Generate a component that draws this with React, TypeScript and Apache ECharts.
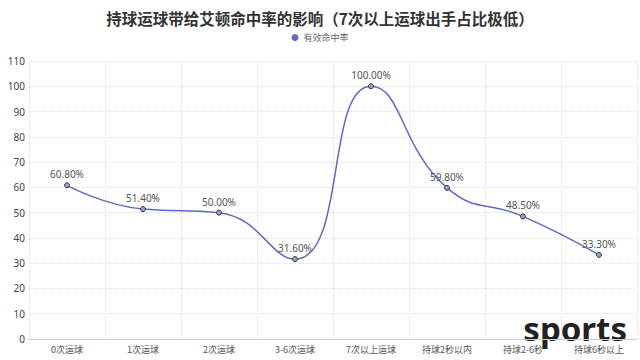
import React, { useEffect, useRef } from "react";
import * as echarts from "echarts";

const categories = ["0次运球", "1次运球", "2次运球", "3-6次运球", "7次以上运球", "持球2秒以内", "持球2-6秒", "持球6秒以上"];
const values = [60.8, 51.4, 50.0, 31.6, 100.0, 59.8, 48.5, 33.3];
const seriesName = "有效命中率";
const titleText = "持球运球带给艾顿命中率的影响（7次以上运球出手占比极低）";

export default function App() {
  const ref = useRef<HTMLDivElement>(null);
  useEffect(() => {
    const chart = echarts.init(ref.current!, null, { renderer: "svg" });
    chart.setOption({
      animation: false,
      backgroundColor: "#fff",
      title: {
        text: titleText,
        left: "center",
        top: 5,
        textStyle: { fontSize: 15.5, fontWeight: "bold", color: "#333", fontFamily: "Noto Sans CJK SC" },
      },
      legend: {
        top: 28,
        left: "center",
        icon: "circle",
        itemWidth: 7,
        itemHeight: 7,
        itemGap: 4,
        textStyle: { fontSize: 9, color: "#666", fontFamily: "Noto Sans CJK SC" },
        data: [{ name: seriesName, itemStyle: { color: "#5b6bc6", borderWidth: 0 } }],
      },
      grid: { left: 29, right: 3, top: 61, bottom: 21, containLabel: false },
      xAxis: {
        type: "category",
        data: categories,
        axisLine: { lineStyle: { color: "#ccc" } },
        axisTick: { show: false },
        axisLabel: { fontSize: 9, color: "#555", fontFamily: "Noto Sans CJK SC", interval: 0, margin: 6 },
        splitLine: { show: true, lineStyle: { type: "dotted", color: "#ddd" } },
      },
      yAxis: {
        type: "value",
        min: 0,
        max: 110,
        interval: 10,
        axisLine: { show: false },
        axisTick: { show: false },
        axisLabel: { fontSize: 10, color: "#444", margin: 4, fontFamily: "Noto Sans" },
        splitLine: { lineStyle: { type: "dotted", color: "#ddd" } },
      },
      series: [
        {
          name: seriesName,
          type: "line",
          smooth: true,
          data: values,
          symbol: "circle",
          symbolSize: 5,
          lineStyle: { color: "#5b6bc6", width: 1.5 },
          itemStyle: { color: "#9aa0c0", borderColor: "#333", borderWidth: 1 },
          label: {
            show: true,
            position: "top",
            distance: 3,
            fontSize: 10,
            color: "#555",
            fontFamily: "Noto Sans",
            formatter: (p: any) => p.value.toFixed(2) + "%",
          },
        },
      ],
      graphic: [
        {
          type: "text",
          right: 13,
          bottom: 15,
          style: { text: "sports", fontSize: 33, fontWeight: "bold", fill: "#222", fontFamily: "Noto Sans" },
        },
      ],
    });
    return () => chart.dispose();
  }, []);
  return <div ref={ref} style={{ width: 640, height: 360, position: "absolute", left: 0, top: 0 }} />;
}
